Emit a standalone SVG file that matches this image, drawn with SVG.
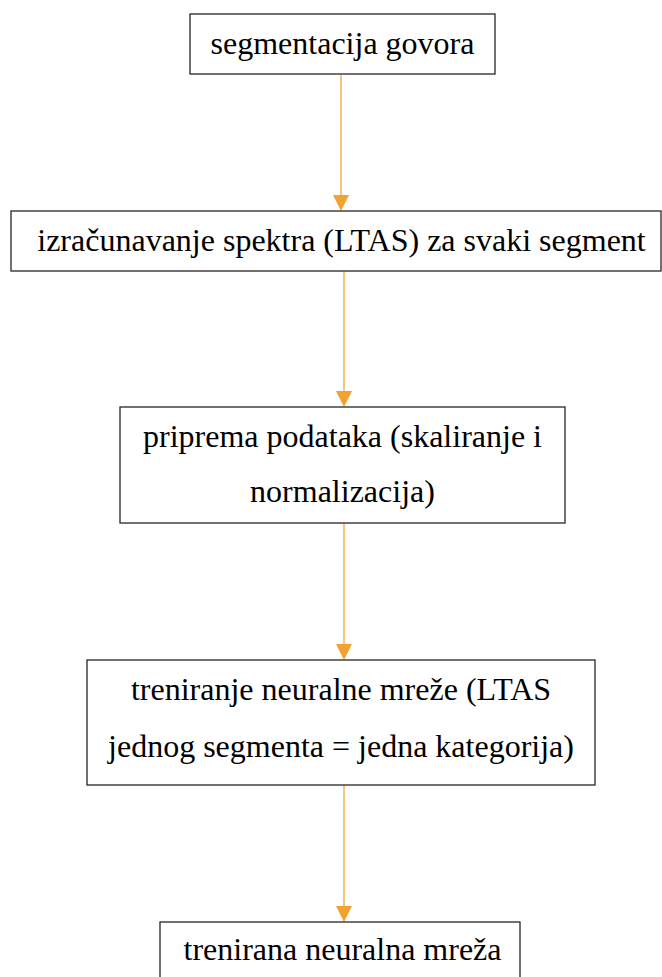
<svg xmlns="http://www.w3.org/2000/svg" width="662" height="977" viewBox="0 0 662 977">
<style>
.box{fill:#fff;stroke:#262626;stroke-width:1.3}
.t{font-family:'Liberation Serif','Times New Roman',serif;font-size:32px;fill:#000;text-anchor:middle}
.c{stroke:#F6B04E;stroke-width:1.5;fill:none}
.h{fill:#F2A230}
</style>
<rect width="662" height="977" fill="#fff"/>
<g id="connectors">
<path d="M341,75 V197" class="c"/><path d="M333,195 L349,195 L341,211 Z" class="h"/>
<path d="M344,271 V393" class="c"/><path d="M336,391 L352,391 L344,407 Z" class="h"/>
<path d="M344,523 V646" class="c"/><path d="M336,644 L352,644 L344,660 Z" class="h"/>
<path d="M344,785 V908" class="c"/><path d="M336,906 L352,906 L344,922 Z" class="h"/>
</g>
<g id="n1"><rect class="box" x="190" y="14" width="305" height="60"/><text class="t" x="342.5" y="54">segmentacija govora</text></g>
<g id="n2"><rect class="box" x="11" y="211" width="650" height="60"/><text class="t" x="341.5" y="251">izračunavanje spektra (LTAS) za svaki segment</text></g>
<g id="n3"><rect class="box" x="120" y="407" width="445" height="116"/><text class="t" x="342.5" y="447">priprema podataka (skaliranje i</text><text class="t" x="342.5" y="502">normalizacija)</text></g>
<g id="n4"><rect class="box" x="87" y="660" width="508" height="125"/><text class="t" x="341" y="700">treniranje neuralne mreže (LTAS</text><text class="t" x="341" y="757">jednog segmenta = jedna kategorija)</text></g>
<g id="n5"><rect class="box" x="160" y="922" width="360" height="70"/><text class="t" x="342.5" y="960">trenirana neuralna mreža</text></g>
</svg>
